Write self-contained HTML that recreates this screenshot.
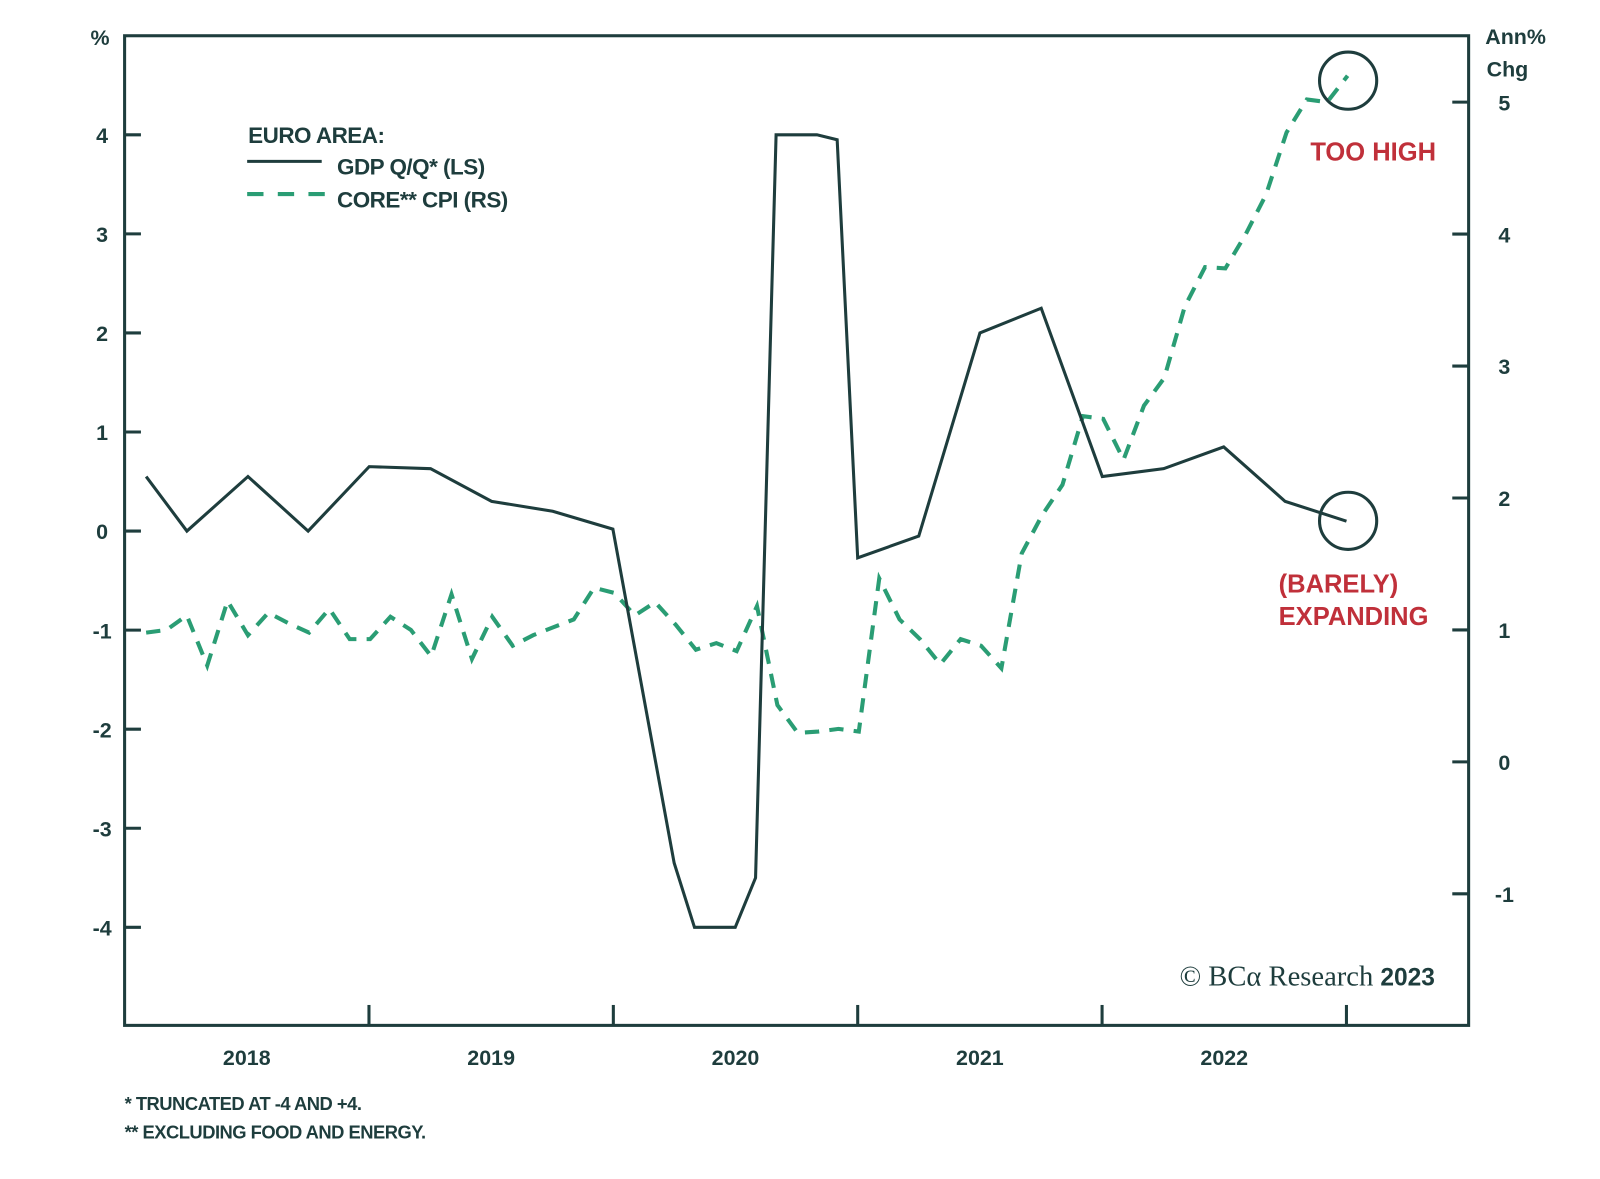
<!DOCTYPE html>
<html><head><meta charset="utf-8"><style>
body{margin:0;background:#fff;}
svg{display:block;font-family:"Liberation Sans",sans-serif;}
</style></head><body>
<svg id="chart" width="1600" height="1179" viewBox="0 0 1600 1179">
<g transform="scale(1.0213)">
<g id="axes"></g>
<g id="series"></g>
<g>
<text x="243" y="140" font-size="22" font-weight="bold" fill="#1e3d3d" letter-spacing="-0.5">EURO AREA:</text>
<line x1="242" y1="158" x2="315" y2="158" stroke="#1e3d3d" stroke-width="3"/>
<text x="330" y="171" font-size="22" font-weight="bold" fill="#1e3d3d" letter-spacing="-0.5">GDP Q/Q* (LS)</text>
<line x1="242" y1="190" x2="320" y2="190" stroke="#2a9d74" stroke-width="4" stroke-dasharray="16,14"/>
<text x="330" y="203" font-size="22" font-weight="bold" fill="#1e3d3d" letter-spacing="-0.5">CORE** CPI (RS)</text>
</g>
<text x="1283" y="157" font-size="25" font-weight="bold" fill="#c0303a">TOO HIGH</text>
<text x="1252" y="580" font-size="25" font-weight="bold" fill="#c0303a">(BARELY)</text>
<text x="1252" y="612" font-size="25" font-weight="bold" fill="#c0303a">EXPANDING</text>
<circle cx="1320" cy="79" r="28" fill="none" stroke="#1e3d3d" stroke-width="3"/>
<circle cx="1320" cy="510" r="28" fill="none" stroke="#1e3d3d" stroke-width="3"/>
<text x="1405" y="965" text-anchor="end" font-size="28" fill="#1e3d3d" font-family="Liberation Serif,serif">© BCα Research <tspan font-weight="bold" font-family="Liberation Sans,sans-serif" font-size="24">2023</tspan></text>
<text x="122" y="1087" font-size="18" fill="#1e3d3d" font-weight="bold" letter-spacing="-0.5">*  TRUNCATED AT -4 AND +4.</text>
<text x="122" y="1115" font-size="18" fill="#1e3d3d" font-weight="bold" letter-spacing="-0.5">** EXCLUDING FOOD AND ENERGY.</text>
</g>
</svg>
<script>
const gdpDates=[2018.088,2018.255,2018.505,2018.751,2019.001,2019.252,2019.502,2019.752,2019.998,2020.249,2020.332,2020.499,2020.582,2020.666,2020.833,2020.916,2021.0,2021.25,2021.5,2021.751,2022.001,2022.252,2022.498,2022.749,2023.0];
const gdpValues=[0.55,0,0.55,0,0.65,0.63,0.3,0.2,0.02,-3.35,-4,-4,-3.5,4,4,3.95,-0.27,-0.05,2,2.25,0.55,0.63,0.85,0.3,0.1];
const cpiStart=2018.088;
const cpiValues=[0.98,1.0,1.11,0.73,1.22,0.96,1.13,1.05,0.98,1.16,0.93,0.93,1.1,1.0,0.8,1.27,0.78,1.1,0.88,0.96,1.02,1.08,1.32,1.28,1.11,1.21,1.04,0.85,0.9,0.84,1.18,0.43,0.22,0.23,0.25,0.23,1.39,1.08,0.93,0.74,0.93,0.88,0.71,1.58,1.87,2.1,2.62,2.6,2.29,2.7,2.91,3.45,3.75,3.74,4.0,4.3,4.77,5.02,5.0,5.2];
const leftTicks=[4,3,2,1,0,-1,-2,-3,-4];
const rightTicks=[5,4,3,2,1,0,-1];
const yearTicks=[2019,2020,2021,2022,2023];
const yearLabels=["2018","2019","2020","2021","2022"];
const L=122,R=1438,T=35,B=1004;
const x=t=>L+(t-2018)*(R-L)/5.5;
const yl=v=>520-v*97;
const yr=v=>746-v*129.2;
const NS="http://www.w3.org/2000/svg";
function mk(tag,attrs,parent,txt){const e=document.createElementNS(NS,tag);for(const k in attrs)e.setAttribute(k,attrs[k]);if(txt!==undefined)e.textContent=txt;parent.appendChild(e);return e;}
const ax=document.getElementById('axes');
const dark="#1e3d3d";
let f=mk('rect',{x:L,y:T,width:R-L,height:B-T,fill:'none',stroke:dark,'stroke-width':3},ax);


leftTicks.forEach(v=>{
  let l=mk('line',{x1:L,x2:L+16,y1:yl(v),y2:yl(v),stroke:dark,'stroke-width':3},ax);
  
  
  let t=mk('text',{x:100,y:yl(v)+8,'text-anchor':'middle','font-size':21,'font-weight':'bold',fill:dark},ax,String(v));
  
  
});
rightTicks.forEach(v=>{
  let l=mk('line',{x1:R-16,x2:R,y1:yr(v),y2:yr(v),stroke:dark,'stroke-width':3},ax);
  
  
  let t=mk('text',{x:1473,y:yr(v)+8,'text-anchor':'middle','font-size':21,'font-weight':'bold',fill:dark},ax,String(v));
  
  
});
yearTicks.forEach(v=>{
  let l=mk('line',{x1:x(v),x2:x(v),y1:B-20,y2:B,stroke:dark,'stroke-width':3},ax);
  
  
});
yearLabels.forEach(s=>{
  let t=mk('text',{x:x(+s+0.5),y:1043,'text-anchor':'middle','font-size':21,'font-weight':'bold',fill:dark},ax,s);
  
  
});
let p=mk('text',{x:98,y:44,'text-anchor':'middle','font-size':21,'font-weight':'bold',fill:dark},ax,'%');


let r1=mk('text',{x:1484,y:43,'text-anchor':'middle','font-size':21,'font-weight':'bold',fill:dark},ax,'Ann%');


let r2=mk('text',{x:1476,y:75,'text-anchor':'middle','font-size':21,'font-weight':'bold',fill:dark},ax,'Chg');


const se=document.getElementById('series');
let cp=cpiValues.map((v,i)=>x(cpiStart+i/12).toFixed(1)+','+yr(v).toFixed(1)).join(' ');
let c=mk('polyline',{points:cp,fill:'none',stroke:'#2a9d74','stroke-width':4,'stroke-dasharray':'14,10'},se);


let gp=gdpValues.map((v,i)=>x(gdpDates[i]).toFixed(1)+','+yl(v).toFixed(1)).join(' ');
let g=mk('polyline',{points:gp,fill:'none',stroke:dark,'stroke-width':3,'stroke-linejoin':'miter'},se);


</script>
</body></html>
